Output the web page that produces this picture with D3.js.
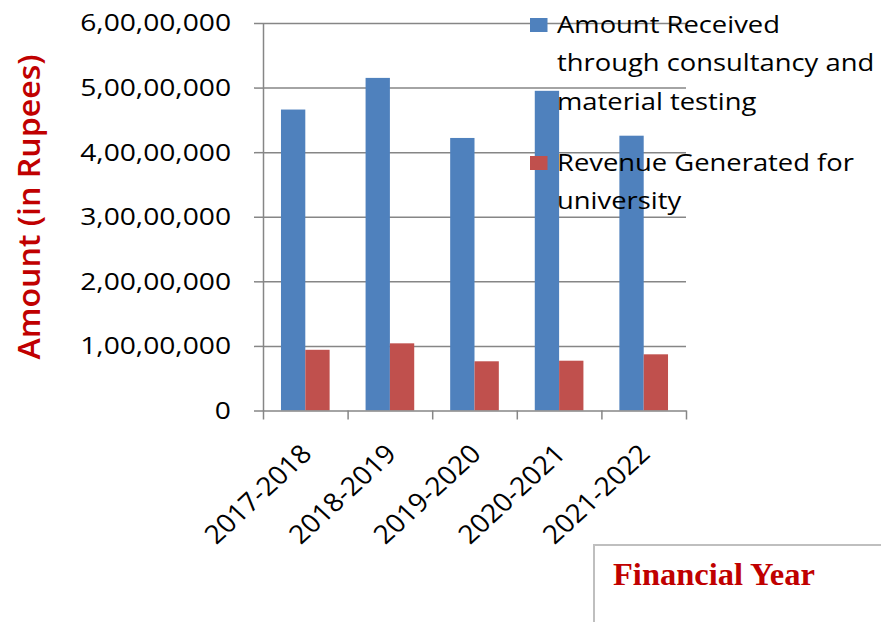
<!DOCTYPE html>
<html><head><meta charset="utf-8">
<script src="https://cdn.jsdelivr.net/npm/d3@7/dist/d3.min.js"></script>
<style>html,body{margin:0;padding:0;background:#fff;}svg{display:block;}</style>
</head><body>
<svg id="c" width="881" height="622"></svg>
<script>
const categories = ["2017-2018","2018-2019","2019-2020","2020-2021","2021-2022"];
const seriesNames = ["Amount Received through consultancy and material testing","Revenue Generated for university"];
const amountReceived = [46600000, 51500000, 42200000, 49500000, 42550000];
const revenueGenerated = [9400000, 10400000, 7620000, 7710000, 8700000];
const yTickValues = [0,10000000,20000000,30000000,40000000,50000000,60000000];
const yTickLabels = ["0","1,00,00,000","2,00,00,000","3,00,00,000","4,00,00,000","5,00,00,000","6,00,00,000"];
const legendLines = [["Amount Received","through consultancy and","material testing"],["Revenue Generated for","university"]];
const colors = ["#4F81BD","#C0504D"];

const svg = d3.select("#c");
const L = 263, R = 686, T = 23, B = 410.5;
const SX = 1.2;
const font = "'Open Sans', Lato, sans-serif";
const y = d3.scaleLinear().domain([0,60000000]).range([B,T]);
const x = d3.scaleBand().domain(categories).range([L,R]).paddingInner(0.425).paddingOuter(0.2125);
const x1 = d3.scaleBand().domain([0,1]).range([0,x.bandwidth()]);
const xEdge = d3.scaleLinear().domain([0,categories.length]).range([L,R]);
const grey = "#868686";

// gridlines
const grid = svg.append("g").attr("transform",`translate(${L},0)`)
  .call(d3.axisLeft(y).tickValues(yTickValues.slice(1)).tickSize(-(R-L)).tickFormat(""));
grid.select(".domain").remove();
grid.selectAll("line").attr("stroke",grey).attr("stroke-width",1.5);

// bars
const data = categories.map((c,i)=>({c, v:[amountReceived[i], revenueGenerated[i]]}));
const groups = svg.append("g").selectAll("g").data(data).join("g")
  .attr("transform",d=>`translate(${x(d.c)},0)`);
groups.selectAll("rect").data(d=>d.v.map((v,k)=>({v,k}))).join("rect")
  .attr("x",d=>x1(d.k)).attr("width",x1.bandwidth())
  .attr("y",d=>y(d.v)).attr("height",d=>y(0)-y(d.v))
  .attr("fill",d=>colors[d.k]);

// y axis
const ya = svg.append("g").attr("transform",`translate(${L},0)`)
  .call(d3.axisLeft(y).tickValues(yTickValues).tickSize(9).tickSizeOuter(0).tickFormat(""));
ya.selectAll("line,path").attr("stroke",grey).attr("stroke-width",1.5);

// x axis
const xa = svg.append("g").attr("transform",`translate(0,${B})`)
  .call(d3.axisBottom(xEdge).tickValues(d3.range(categories.length+1)).tickSize(9).tickSizeOuter(0).tickFormat(""));
xa.selectAll("line,path").attr("stroke",grey).attr("stroke-width",1.5);

// y tick labels
svg.append("g").selectAll("g").data(yTickValues).join("g")
  .attr("transform",(d)=>`translate(231,${y(d)}) scale(${SX},1)`)
  .append("text").attr("text-anchor","end").attr("dy","0.36em")
  .attr("font-family",font).attr("font-size",23.5).attr("fill","#000")
  .text((d,i)=>yTickLabels[i]);

// x labels
svg.append("g").selectAll("g").data(categories).join("g")
  .attr("transform",d=>`translate(${x(d)+x.bandwidth()/2+8},${B+45}) scale(1.08,1) rotate(-45)`)
  .append("text").attr("text-anchor","end")
  .attr("font-family",font).attr("font-size",26).attr("fill","#000")
  .text(d=>d);

// y title
svg.append("g").attr("transform",`translate(40,207) rotate(-90)`)
  .append("text").attr("text-anchor","middle")
  .attr("font-family",font).attr("font-weight",600).attr("font-size",31).attr("fill","#C00000")
  .attr("textLength",305).attr("lengthAdjust","spacingAndGlyphs")
  .text("Amount (in Rupees)");

// legend
const legTops = [18, 156];
const LSX = 1.175;
const lg = svg.append("g");
legendLines.forEach((lines,k)=>{
  lg.append("rect").attr("x",530).attr("y",legTops[k]).attr("width",17.5).attr("height",14).attr("fill",colors[k]);
  lines.forEach((t,j)=>{
    lg.append("g").attr("transform",`translate(557,${legTops[k]+14.5+j*38.8}) scale(${LSX},1)`)
      .append("text").attr("font-family",font).attr("font-size",23.3).attr("fill","#000").text(t);
  });
});

// Financial Year box
svg.append("path").attr("d","M594,622 V545 H881").attr("fill","none").attr("stroke","#BFBFBF").attr("stroke-width",2);
svg.append("text").attr("x",613).attr("y",585).attr("font-family","'Liberation Serif', 'Times New Roman', serif")
  .attr("font-weight","bold").attr("font-size",32.5).attr("fill","#C00000").text("Financial Year");
</script>
</body></html>
